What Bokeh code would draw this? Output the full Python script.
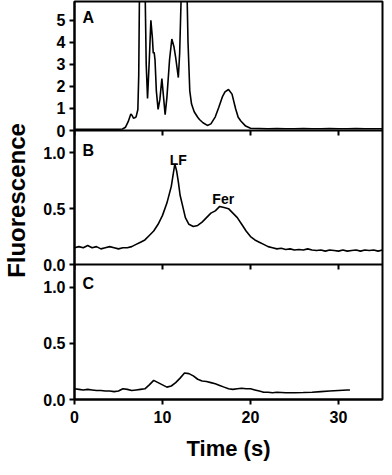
from bokeh.plotting import figure
from bokeh.models import FixedTicker, Range1d, LinearAxis, CustomJSTickFormatter
from bokeh.core.properties import value
from bokeh.embed import file_html
from bokeh.resources import INLINE

# ---------------- data ----------------
time_a = [0, 1, 2, 3, 4, 5, 5.45, 5.8, 6.1, 6.4, 6.55, 6.7, 6.85, 7.0, 7.2, 7.3, 7.4,
          7.7, 8.0, 8.15, 8.3, 8.5, 8.68, 8.85, 8.95, 9.05, 9.15, 9.3, 9.5, 9.7, 9.93,
          10.1, 10.3, 10.5, 10.8, 11.06, 11.3, 11.5, 11.8, 11.95, 12.15, 12.4, 12.7,
          12.9, 13.1, 13.3, 13.6, 14.0, 14.2, 14.6, 15.1, 15.5, 16.0, 16.4, 16.8, 17.1,
          17.5, 17.9, 18.3, 18.6, 18.9, 19.45, 20.0, 21, 22, 23, 24, 25, 26, 27, 28,
          29, 30, 31, 32, 33, 34, 35]
signal_a = [0.05, 0.05, 0.05, 0.05, 0.05, 0.06, 0.07, 0.15, 0.4, 0.75, 0.68, 0.56, 0.58,
            0.62, 0.95, 2.5, 7.0, 9.0, 7.0, 3.0, 1.45, 3.2, 5.0, 4.2, 3.5, 3.55, 3.2,
            1.8, 0.96, 1.4, 2.35, 1.6, 0.72, 1.5, 3.2, 4.15, 3.8, 3.3, 2.4, 3.5, 6.5,
            9.0, 8.0, 4.0, 1.8, 1.2, 0.85, 0.6, 0.5, 0.35, 0.23, 0.3, 0.62, 1.05, 1.52,
            1.75, 1.86, 1.65, 1.0, 0.6, 0.43, 0.2, 0.1, 0.09, 0.08, 0.09, 0.08, 0.08,
            0.09, 0.08, 0.08, 0.09, 0.08, 0.08, 0.09, 0.08, 0.08, 0.08]

time_b = [0, 0.5, 1, 1.5, 2, 2.5, 3, 3.5, 4, 4.5, 5, 5.5, 6, 6.5, 7, 7.5, 8, 8.5, 9,
          9.5, 10, 10.5, 11, 11.2, 11.4, 11.6, 11.8, 12, 12.3, 12.6, 13, 13.5, 14,
          14.5, 15, 15.5, 16, 16.5, 17, 17.5, 18, 18.5, 19, 19.5, 20, 20.5, 21, 21.5,
          22, 22.5, 23, 23.5, 24, 24.5, 25, 25.5, 26, 26.5, 27, 27.5, 28, 28.5, 29,
          29.5, 30, 30.5, 31, 31.5, 32, 32.5, 33, 33.5, 34, 34.5, 35]
signal_b = [0.15, 0.16, 0.15, 0.17, 0.15, 0.16, 0.14, 0.15, 0.16, 0.15, 0.14, 0.15,
            0.15, 0.16, 0.18, 0.2, 0.22, 0.26, 0.3, 0.36, 0.44, 0.55, 0.7, 0.8, 0.9,
            0.84, 0.74, 0.62, 0.52, 0.42, 0.36, 0.34, 0.35, 0.38, 0.42, 0.46, 0.48,
            0.52, 0.51, 0.5, 0.46, 0.42, 0.36, 0.3, 0.25, 0.22, 0.2, 0.18, 0.16, 0.15,
            0.14, 0.145, 0.135, 0.14, 0.13, 0.135, 0.13, 0.14, 0.13, 0.125, 0.13, 0.12,
            0.13, 0.125, 0.12, 0.13, 0.12, 0.125, 0.13, 0.12, 0.13, 0.125, 0.13, 0.12,
            0.13]

time_c = [0, 0.5, 1, 1.5, 2, 2.5, 3, 3.5, 4, 4.5, 5, 5.5, 6, 6.5, 7, 7.5, 8, 8.5, 9,
          9.5, 10, 10.5, 11, 11.5, 12, 12.5, 13, 13.5, 14, 14.5, 15, 15.5, 16, 16.5,
          17, 17.5, 18, 18.5, 19, 19.5, 20, 20.5, 21, 21.5, 22, 22.5, 23, 24, 25, 26,
          27, 28, 29, 30, 31, 31.3]
signal_c = [0.095, 0.09, 0.085, 0.09, 0.085, 0.08, 0.08, 0.075, 0.075, 0.07, 0.075,
            0.095, 0.09, 0.08, 0.085, 0.09, 0.095, 0.13, 0.17, 0.15, 0.13, 0.11, 0.12,
            0.15, 0.19, 0.235, 0.23, 0.21, 0.18, 0.165, 0.16, 0.15, 0.14, 0.125, 0.11,
            0.095, 0.09, 0.095, 0.1, 0.095, 0.095, 0.085, 0.075, 0.065, 0.065, 0.06,
            0.065, 0.06, 0.06, 0.062, 0.065, 0.07, 0.075, 0.08, 0.085, 0.085]

x_ticks = [0, 10, 20, 30]
y_ticks_a = [0, 1, 2, 3, 4, 5]
y_ticks_bc = [0, 0.5, 1.0]
panel_names = ["A", "B", "C"]
peak_names = ["LF", "Fer"]
peak_time = [11.8, 16.9]
peak_label_y = [0.94, 0.585]

# ---------------- layout constants ----------------
FONT = "Liberation Sans"
FRAME_W = 308
LEFT = 69
# pixel height of each panel inside the single frame, bottom (C) to top (A)
panel_h = {"C": 135, "B": 134, "A": 129}
panel_base = {"C": 0, "B": 135, "A": 269}
panel_top = {"A": 5.85, "B": 1.2, "C": 1.2}
FRAME_H = sum(panel_h.values())

p = figure(frame_width=FRAME_W, frame_height=FRAME_H, min_border_left=LEFT,
           min_border_right=2, min_border_top=1, min_border_bottom=68,
           x_range=Range1d(0, 35), y_range=Range1d(0, FRAME_H),
           y_axis_location=None, toolbar_location=None, output_backend="svg")
p.outline_line_color = "black"
p.outline_line_width = 2
p.xgrid.visible = False
p.ygrid.visible = False
p.background_fill_color = "white"
p.border_fill_color = "white"

# one data range per panel, each mapped onto its own strip of the frame
for k in ["A", "B", "C"]:
    ppu = panel_h[k] / panel_top[k]
    p.extra_y_ranges[k] = Range1d(-panel_base[k] / ppu, (FRAME_H - panel_base[k]) / ppu)

# left axis: tick labels of all three panels
tick_pos, tick_lab = [], []
for k, ticks in [("A", y_ticks_a), ("B", y_ticks_bc), ("C", y_ticks_bc)]:
    ppu = panel_h[k] / panel_top[k]
    for v in ticks:
        tick_pos.append(panel_base[k] + v * ppu)
        tick_lab.append(str(int(v)) if k == "A" else f"{v:.1f}")

yax = LinearAxis(ticker=FixedTicker(ticks=tick_pos),
                 formatter=CustomJSTickFormatter(
                     args=dict(pos=tick_pos, lab=tick_lab),
                     code="for (let i = 0; i < pos.length; i++) {"
                          " if (Math.abs(pos[i] - tick) < 1e-6) return lab[i]; }"
                          " return '';"))
yax.axis_line_width = 2
yax.major_tick_line_width = 2
yax.major_tick_out = 5
yax.major_tick_in = 0
yax.minor_tick_line_color = None
yax.major_label_text_font = FONT
yax.major_label_text_font_style = "bold"
yax.major_label_text_font_size = "16px"
yax.major_label_text_color = "black"
yax.major_label_standoff = 4
yax.axis_label = "Fluorescence"
yax.axis_label_text_font = FONT
yax.axis_label_text_font_style = "bold"
yax.axis_label_text_font_size = "24px"
yax.axis_label_text_color = "black"
yax.axis_label_standoff = 10
p.add_layout(yax, "left")

# bottom axis
xa = p.xaxis[0]
xa.ticker = FixedTicker(ticks=x_ticks)
xa.axis_line_width = 2
xa.major_tick_line_width = 2
xa.major_tick_out = 5
xa.major_tick_in = 0
xa.minor_tick_line_color = None
xa.major_label_text_font = FONT
xa.major_label_text_font_style = "bold"
xa.major_label_text_font_size = "16px"
xa.major_label_text_color = "black"
xa.major_label_standoff = 6
xa.axis_label = "Time (s)"
xa.axis_label_text_font = FONT
xa.axis_label_text_font_style = "bold"
xa.axis_label_text_font_size = "22px"
xa.axis_label_text_color = "black"
xa.axis_label_standoff = 10

# panel separators and their downward ticks
for k in ["B", "C"]:
    p.hspan(y=[panel_top[k]], y_range_name=k, line_color="black", line_width=2)
    p.ray(x=x_ticks, y=[panel_top[k]] * len(x_ticks), y_range_name=k,
          length=5, length_units="screen", angle=-90, angle_units="deg",
          line_color="black", line_width=2)

# traces
for k, t, s in [("A", time_a, signal_a), ("B", time_b, signal_b), ("C", time_c, signal_c)]:
    p.line(t, s, y_range_name=k, line_color="black", line_width=1.6)

# panel letters
for k, yy in zip(panel_names, [5.12, 1.02, 1.03]):
    p.text(x=[0.9], y=[yy], text=[k], y_range_name=k, text_font=value(FONT),
           text_font_style="bold", text_font_size="16px", text_color="black",
           text_align="left", text_baseline="alphabetic")

# peak names in panel B
p.text(x=peak_time, y=peak_label_y, text=peak_names, y_range_name="B",
       text_font=value(FONT), text_font_style="bold", text_font_size="14px",
       text_color="black", text_align="center", text_baseline="alphabetic")

open("out.html", "w").write(file_html(p, INLINE))
